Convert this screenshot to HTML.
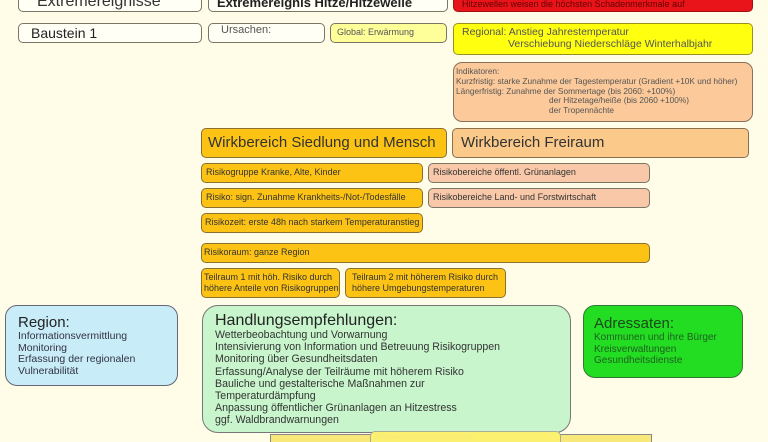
<!DOCTYPE html>
<html><head><meta charset="utf-8"><style>
html,body{margin:0;padding:0;width:768px;height:442px;overflow:hidden}
body{background:#fffde8;position:relative;font-family:"Liberation Sans",Arial,sans-serif;color:#333}
.b{position:absolute;box-sizing:border-box;border:1.5px solid #7a7565;border-radius:5px;overflow:hidden;white-space:nowrap}
.w{background:#fffff6}
.o{background:#fcc314;border-color:#8a7030}
.s{font-size:9px;padding:3px 4px;line-height:11px}
</style></head><body>
<div class="b w" style="left:18px;top:-12px;width:184px;height:24px;font-size:16px;padding:3px 18px;line-height:20px">Extremereignisse</div>
<div class="b w" style="left:208px;top:-12px;width:240px;height:24px;font-size:13px;font-weight:bold;padding:5px 8px;line-height:18px;color:#222">Extremereignis Hitze/Hitzewelle</div>
<div class="b" style="left:453px;top:-12px;width:300px;height:24px;background:#e8141a;border-color:#a01010;font-size:9px;padding:9px 8px;line-height:12px;color:#600">Hitzewellen weisen die höchsten Schadenmerkmale auf</div>

<div class="b w" style="left:18px;top:23px;width:184px;height:20px;font-size:14px;padding:1px 12px;line-height:17px;color:#222">Baustein 1</div>
<div class="b w" style="left:208px;top:23px;width:117px;height:20px;font-size:11px;padding:0 12px;line-height:13px;color:#555">Ursachen:</div>
<div class="b" style="left:330px;top:23px;width:117px;height:20px;background:#ffff9a;font-size:9px;padding:3px 6px;line-height:11px;color:#555">Global: Erwärmung</div>
<div class="b" style="left:453px;top:23px;width:300px;height:32px;background:#ffff10;border-color:#9a9020;font-size:10.5px;padding:2px 8px;line-height:12px;color:#555">Regional: Anstieg Jahrestemperatur<br><span style="padding-left:46px">Verschiebung Niederschläge Winterhalbjahr</span></div>
<div class="b" style="left:453px;top:62px;width:300px;height:60px;background:#fbc99a;border-color:#8a7060;border-radius:9px;font-size:8.3px;padding:4px 2px;line-height:9.8px;color:#555">Indikatoren:<br>Kurzfristig: starke Zunahme der Tagestemperatur (Gradient +10K und höher)<br>Längerfristig: Zunahme der Sommertage (bis 2060: +100%)<br><span style="padding-left:93px">der Hitzetage/heiße (bis 2060 +100%)</span><br><span style="padding-left:93px">der Tropennächte</span></div>

<div class="b o" style="left:201px;top:128px;width:246px;height:30px;font-size:15px;padding:4px 6px;line-height:20px;color:#333">Wirkbereich Siedlung und Mensch</div>
<div class="b" style="left:452px;top:128px;width:297px;height:30px;background:#fbc98a;border-color:#8a7050;font-size:15px;padding:4px 8px;line-height:20px;color:#333">Wirkbereich Freiraum</div>
<div class="b o s" style="left:201px;top:163px;width:222px;height:20px">Risikogruppe Kranke, Alte, Kinder</div>
<div class="b s" style="left:428px;top:163px;width:222px;height:20px;background:#f8c8a8">Risikobereiche öffentl. Grünanlagen</div>
<div class="b o s" style="left:201px;top:188px;width:222px;height:20px">Risiko: sign. Zunahme Krankheits-/Not-/Todesfälle</div>
<div class="b s" style="left:428px;top:188px;width:222px;height:20px;background:#f8c8a8">Risikobereiche Land- und Forstwirtschaft</div>
<div class="b o s" style="left:201px;top:213px;width:222px;height:20px;padding-left:3px">Risikozeit: erste 48h nach starkem Temperaturanstieg</div>
<div class="b o s" style="left:201px;top:243px;width:449px;height:20px;padding-left:2px">Risikoraum: ganze Region</div>
<div class="b o s" style="left:201px;top:268px;width:139px;height:30px;padding:3px 2px">Teilraum 1 mit höh. Risiko durch<br>höhere Anteile von Risikogruppen</div>
<div class="b o s" style="left:345px;top:268px;width:161px;height:30px;padding:3px 6px">Teilraum 2 mit höherem Risiko durch<br>höhere Umgebungstemperaturen</div>

<div class="b" style="left:5px;top:305px;width:173px;height:81px;background:#c8ecf8;border-color:#667;border-radius:12px;font-size:10.5px;padding:9px 12px;line-height:11.5px;color:#334">
<div style="font-size:15px;line-height:16px;color:#222">Region:</div>Informationsvermittlung<br>Monitoring<br>Erfassung der regionalen<br>Vulnerabilität</div>

<div class="b" style="left:202px;top:305px;width:369px;height:128px;background:#c8f5cc;border-color:#777;border-radius:16px;font-size:10.6px;padding:6px 12px;line-height:12.2px;color:#333">
<div style="font-size:16px;line-height:17px;color:#222">Handlungsempfehlungen:</div>Wetterbeobachtung und Vorwarnung<br>Intensivierung von Information und Betreuung Risikogruppen<br>Monitoring über Gesundheitsdaten<br>Erfassung/Analyse der Teilräume mit höherem Risiko<br>Bauliche und gestalterische Maßnahmen zur<br>Temperaturdämpfung<br>Anpassung öffentlicher Grünanlagen an Hitzestress<br>ggf. Waldbrandwarnungen</div>

<div class="b" style="left:583px;top:305px;width:160px;height:73px;background:#22dd22;border-color:#337733;border-radius:12px;font-size:10px;padding:9px 10px;line-height:11.5px;color:#206020">
<div style="font-size:15px;line-height:17px;color:#1a4a1a">Adressaten:</div>Kommunen und ihre Bürger<br>Kreisverwaltungen<br>Gesundheitsdienste</div>

<div style="position:absolute;left:270px;top:434px;width:380px;height:20px;background:#f8e87a;border:1px solid #888"></div>
<div class="b" style="left:370px;top:431px;width:191px;height:20px;background:#fbf070;border-color:#aa9;font-size:7px;padding:2px 6px;color:#f8e87a">Klimaanpassungsmaßnahmen</div>
</body></html>
